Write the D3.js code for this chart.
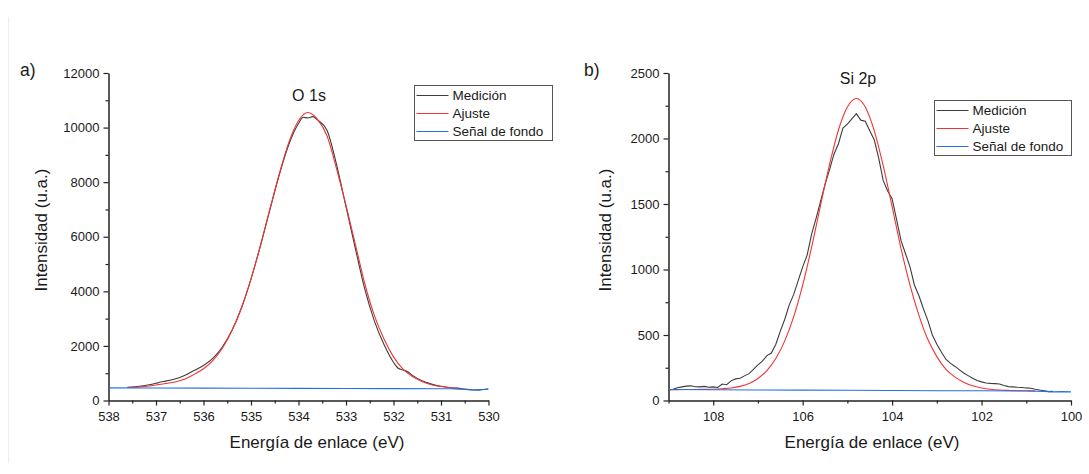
<!DOCTYPE html>
<html>
<head>
<meta charset="utf-8">
<script src="https://cdn.jsdelivr.net/npm/d3@7"></script>
<style>
  html, body { margin: 0; padding: 0; background: #fff; }
  svg { display: block; font-family: Arial, "Liberation Sans", sans-serif; }
</style>
</head>
<body>
<svg id="chart" width="1089" height="474"></svg>
<script>
// ---------------- DATA ----------------
// Panel a) O 1s
const o1sMeasE = [537.6,537.4,537.2,537.0,536.9,536.8,536.6,536.4,536.2,536.0,535.8,535.6,535.4,535.2,535.0,534.8,534.6,534.4,534.2,534.0,533.9,533.8,533.7,533.6,533.4,533.2,533.0,532.8,532.6,532.4,532.2,532.0,531.9,531.8,531.7,531.6,531.4,531.2,531.0,530.8,530.6,530.4,530.3,530.2,530.0];
const o1sMeas  = [480,510,560,630,680,710,790,920,1100,1280,1550,1970,2570,3400,4450,5680,7000,8300,9400,10150,10380,10350,10400,10280,9900,8650,7100,5550,4050,2900,2050,1400,1180,1120,1050,920,720,600,520,470,440,400,385,390,420];
const o1sFitE  = [537.6,537.4,537.2,537.0,536.8,536.6,536.4,536.2,536.0,535.8,535.6,535.4,535.2,535.0,534.8,534.6,534.4,534.2,534.0,533.8,533.6,533.4,533.2,533.0,532.8,532.6,532.4,532.2,532.0,531.8,531.6,531.4,531.2,531.0,530.8,530.6];
const o1sFit   = [478,495,520,570,620,680,780,957,1161,1469,1926,2561,3397,4456,5686,7027,8327,9477,10252,10550,10300,9700,8500,7150,5700,4250,3100,2250,1600,1150,880,700,580,510,470,450];
const o1sBgE   = [538,537,536,535,534,533,532,531,530.8,530.6,530.5,530.4,530.3,530.2,530.1,530.0];
const o1sBg    = [462,458,454,449,445,441,436,432,428,418,405,392,385,388,405,418];

// Panel b) Si 2p
const si2pMeasE = [109.0,108.9,108.8,108.7,108.6,108.5,108.4,108.3,108.2,108.1,108.0,107.9,107.8,107.7,107.6,107.5,107.4,107.3,107.2,107.1,107.0,106.9,106.8,106.7,106.6,106.5,106.4,106.3,106.2,106.1,106.0,105.9,105.8,105.7,105.6,105.5,105.4,105.3,105.2,105.1,105.0,104.9,104.8,104.7,104.6,104.5,104.4,104.3,104.2,104.1,104.0,103.9,103.8,103.7,103.6,103.5,103.4,103.3,103.2,103.1,103.0,102.9,102.8,102.7,102.6,102.5,102.4,102.3,102.2,102.1,102.0,101.9,101.8,101.7,101.6,101.5,101.4,101.3,101.2,101.1,101.0,100.9,100.8,100.7,100.6,100.5,100.4];
const si2pMeas  = [80,85,98,104,110,112,105,104,108,101,104,99,126,120,150,165,170,188,205,238,272,300,343,362,430,530,620,730,810,915,1020,1110,1270,1390,1520,1650,1760,1880,1960,2080,2110,2150,2190,2140,2132,2060,1990,1850,1680,1600,1540,1380,1220,1120,1020,880,800,700,610,500,430,370,315,285,262,236,210,190,170,152,142,134,131,129,126,115,106,104,101,99,96,94,86,80,75,68,70];
const si2pFitE  = [109.0,108.8,108.6,108.4,108.2,108.0,107.8,107.6,107.4,107.2,107.0,106.8,106.6,106.4,106.2,106.0,105.8,105.6,105.4,105.2,105.0,104.8,104.6,104.4,104.2,104.0,103.8,103.6,103.4,103.2,103.0,102.8,102.6,102.4,102.2,102.0,101.8,101.6,101.4,101.2,101.0,100.8];
const si2pFit   = [83,83,84,84,85,86,90,96,108,130,168,228,320,455,640,880,1170,1490,1800,2065,2240,2305,2240,2060,1793,1480,1160,880,650,465,335,240,180,140,112,96,86,80,77,75,74,73];
const si2pBgE   = [109,108,107,106,105,104,103,102,101,100.6,100.4,100.2,100];
const si2pBg    = [84,82,80,79,78,76,75,74,72,70,66,68,66];

// Axis ticks
const o1sXMajor = [538,537,536,535,534,533,532,531,530];
const o1sXMinor = [537.5,536.5,535.5,534.5,533.5,532.5,531.5,530.5];
const o1sYMajor = [0,2000,4000,6000,8000,10000,12000];
const o1sYMinor = [1000,3000,5000,7000,9000,11000];
const si2pXMajor = [108,106,104,102,100];
const si2pXMinor = [109,107,105,103,101];
const si2pYMajor = [0,500,1000,1500,2000,2500];
const si2pYMinor = [250,750,1250,1750,2250];

const legendLabels = ["Medición","Ajuste","Señal de fondo"];
const seriesColors = ["#3c3c3c","#f23333","#2470e6"];

// ---------------- DRAW ----------------
const svg = d3.select("#chart");

// faint page border at left
svg.append("line").attr("x1",8.5).attr("x2",8.5).attr("y1",17).attr("y2",463)
   .attr("stroke","#ececec").attr("stroke-width",1);

function panel(cfg){
  const x = d3.scaleLinear().domain(cfg.xDomain).range(cfg.xRange);
  const y = d3.scaleLinear().domain(cfg.yDomain).range(cfg.yRange);
  const g = svg.append("g");

  // minor ticks
  g.append("g").attr("transform",`translate(0,${cfg.yRange[0]})`)
    .call(d3.axisBottom(x).tickValues(cfg.xMinor).tickSize(3).tickFormat(""))
    .call(s=>{s.select(".domain").remove(); s.selectAll("line").attr("stroke","#222").attr("stroke-width",1.2);});
  g.append("g").attr("transform",`translate(${cfg.xRange[0]},0)`)
    .call(d3.axisLeft(y).tickValues(cfg.yMinor).tickSize(3).tickFormat(""))
    .call(s=>{s.select(".domain").remove(); s.selectAll("line").attr("stroke","#222").attr("stroke-width",1.2);});

  // major axes
  const xa = g.append("g").attr("transform",`translate(0,${cfg.yRange[0]})`)
    .call(d3.axisBottom(x).tickValues(cfg.xMajor).tickSize(5).tickSizeOuter(0).tickPadding(6).tickFormat(d3.format("d")));
  const ya = g.append("g").attr("transform",`translate(${cfg.xRange[0]},0)`)
    .call(d3.axisLeft(y).tickValues(cfg.yMajor).tickSize(5).tickSizeOuter(0).tickPadding(4).tickFormat(d3.format("d")));
  [xa,ya].forEach(a=>{
    a.select(".domain").attr("stroke","#222").attr("stroke-width",1.5);
    a.selectAll(".tick line").attr("stroke","#222").attr("stroke-width",1.2);
    a.selectAll(".tick text").attr("fill","#1a1a1a").style("font-size","13px")
      .style("font-family",'Arial, "Liberation Sans", sans-serif');
  });

  // curves
  const line = d3.line().x(d=>x(d[0])).y(d=>y(d[1]));
  const smooth = d3.line().x(d=>x(d[0])).y(d=>y(d[1])).curve(d3.curveMonotoneX);
  const clipId = "clip"+cfg.id;
  svg.append("clipPath").attr("id",clipId).append("rect")
    .attr("x",cfg.xRange[0]).attr("y",cfg.yRange[1]-20)
    .attr("width",cfg.xRange[1]-cfg.xRange[0]).attr("height",cfg.yRange[0]-cfg.yRange[1]+20);
  const cg = g.append("g").attr("clip-path",`url(#${clipId})`);
  const zip = (a,b)=>a.map((v,i)=>[v,b[i]]);
  cg.append("path").datum(zip(cfg.measE,cfg.meas)).attr("d",cfg.measSmooth?smooth:line)
    .attr("fill","none").attr("stroke",seriesColors[0]).attr("stroke-width",1.1);
  cg.append("path").datum(zip(cfg.fitE,cfg.fit)).attr("d",smooth)
    .attr("fill","none").attr("stroke",seriesColors[1]).attr("stroke-width",1.1);
  cg.append("path").datum(zip(cfg.bgE,cfg.bg)).attr("d",line)
    .attr("fill","none").attr("stroke",seriesColors[2]).attr("stroke-width",1.1);

  // axis titles
  g.append("text").attr("x",cfg.xLabelX).attr("y",448)
    .attr("text-anchor","middle").style("font-size","17px").attr("fill","#1a1a1a")
    .text("Energía de enlace (eV)");
  g.append("text").attr("transform",`translate(${cfg.yLabelX},230) rotate(-90)`)
    .attr("text-anchor","middle").style("font-size","17px").attr("fill","#1a1a1a")
    .text("Intensidad (u.a.)");

  // panel letter and title
  g.append("text").attr("x",cfg.letterX).attr("y",76).style("font-size","17.5px").attr("fill","#1a1a1a").text(cfg.letter);
  g.append("text").attr("x",cfg.titleX).attr("y",cfg.titleY).attr("text-anchor","middle")
    .style("font-size","16px").attr("fill","#1a1a1a").text(cfg.title);

  // legend
  const lg = g.append("g").attr("transform",`translate(${cfg.legX},${cfg.legY})`);
  lg.append("rect").attr("x",0).attr("y",0).attr("width",cfg.legW).attr("height",55)
    .attr("fill","#fff").attr("stroke","#555").attr("stroke-width",1);
  legendLabels.forEach((t,i)=>{
    const yy = 10 + i*18;
    lg.append("line").attr("x1",2).attr("x2",34).attr("y1",yy).attr("y2",yy)
      .attr("stroke",seriesColors[i]).attr("stroke-width",1.1);
    lg.append("text").attr("x",38).attr("y",yy+4.5).style("font-size","13.5px").attr("fill","#1a1a1a").text(t);
  });
}

panel({
  id:"a", letter:"a)", letterX:20, title:"O 1s", titleX:309, titleY:101,
  xDomain:[538,530], xRange:[108.5,488.5], yDomain:[0,12000], yRange:[400.5,73],
  xMajor:o1sXMajor, xMinor:o1sXMinor, yMajor:o1sYMajor, yMinor:o1sYMinor,
  measE:o1sMeasE, meas:o1sMeas, measSmooth:true, fitE:o1sFitE, fit:o1sFit, bgE:o1sBgE, bg:o1sBg,
  xLabelX:317, yLabelX:47, legX:414.5, legY:85.5, legW:138
});
panel({
  id:"b", letter:"b)", letterX:584, title:"Si 2p", titleX:858, titleY:84,
  xDomain:[109,100], xRange:[668.5,1071], yDomain:[0,2500], yRange:[400.5,73],
  xMajor:si2pXMajor, xMinor:si2pXMinor, yMajor:si2pYMajor, yMinor:si2pYMinor,
  measE:si2pMeasE, meas:si2pMeas, measSmooth:false, fitE:si2pFitE, fit:si2pFit, bgE:si2pBgE, bg:si2pBg,
  xLabelX:872, yLabelX:611, legX:934.5, legY:100.5, legW:137
});
</script>
</body>
</html>
